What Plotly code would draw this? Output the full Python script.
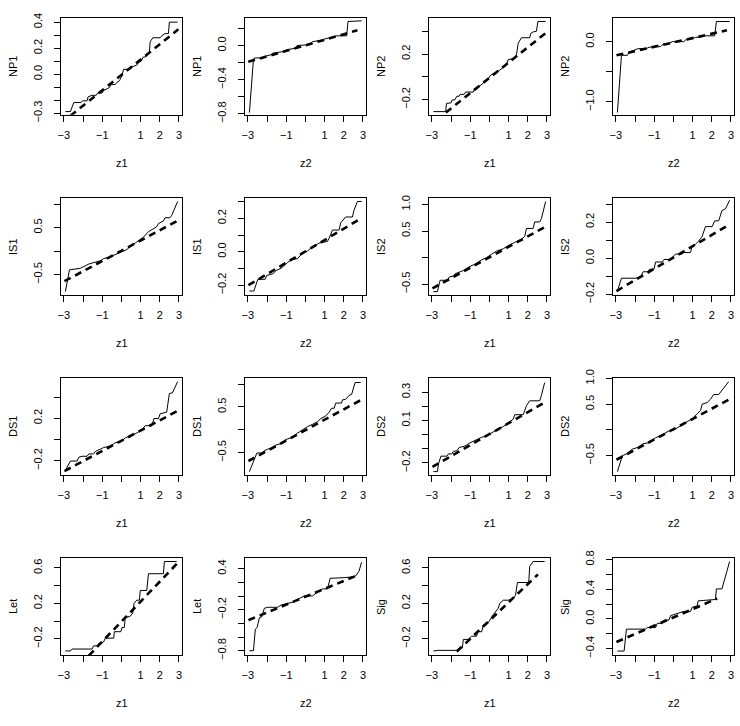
import plotly.graph_objects as go

# ---------------- data ----------------
x_tick_vals = [-3, -2, -1, 0, 1, 2, 3]
x_tick_text = ["\u22123", "", "\u22121", "", "1", "2", "3"]

row_vars = ["NP1", "NP1", "NP2", "NP2", "IS1", "IS1", "IS2", "IS2",
            "DS1", "DS1", "DS2", "DS2", "Let", "Let", "Sig", "Sig"]
col_vars = ["z1", "z2", "z1", "z2"] * 4

np1_z1_x = [-2.92,-2.66,-2.48,-2.10,-2.03,-1.79,-1.74,-1.53,-1.31,-1.24,-1.01,-0.93,-0.75,-0.61,-0.54,-0.32,-0.23,-0.10,0.03,0.11,0.46,0.54,0.80,0.89,1.06,1.12,1.29,1.36,1.46,1.50,1.64,2.02,2.10,2.28,2.45,2.50,2.93]
np1_z1_y = [-0.2875,-0.2875,-0.2175,-0.2175,-0.205,-0.205,-0.175,-0.1625,-0.1625,-0.145,-0.145,-0.125,-0.1125,-0.10,-0.08,-0.08,-0.0625,-0.05,-0.0125,0.0375,0.0375,0.055,0.07,0.0875,0.105,0.13,0.135,0.15,0.175,0.25,0.28,0.28,0.295,0.3125,0.3125,0.40,0.40]
np1_z2_x = [-2.92,-2.71,-2.66,-2.14,-2.10,-1.79,-1.70,-1.10,-1.01,-0.49,-0.44,0.03,0.29,0.37,0.89,0.98,1.50,1.58,2.15,2.22,2.93]
np1_z2_y = [-0.785,-0.164,-0.145,-0.145,-0.126,-0.107,-0.088,-0.069,-0.050,-0.030,0.0,0.008,0.027,0.046,0.065,0.076,0.103,0.114,0.114,0.282,0.29]
np2_z1_x = [-2.92,-2.28,-2.24,-2.00,-1.96,-1.79,-1.70,-1.58,-1.53,-1.31,-1.24,-0.84,-0.79,-0.58,-0.49,-0.32,-0.23,-0.06,0.03,0.20,0.37,0.54,0.72,0.89,0.98,1.24,1.32,1.41,1.50,1.67,2.10,2.15,2.28,2.45,2.53,2.93]
np2_z1_y = [-0.306,-0.306,-0.234,-0.229,-0.206,-0.20,-0.171,-0.171,-0.154,-0.154,-0.134,-0.134,-0.114,-0.091,-0.077,-0.057,-0.04,-0.02,0.009,0.029,0.037,0.057,0.08,0.103,0.151,0.16,0.171,0.194,0.294,0.343,0.343,0.38,0.394,0.40,0.486,0.486]
np2_z2_x = [-2.92,-2.71,-2.40,-2.31,-2.10,-1.88,-1.36,-1.27,-0.67,-0.54,-0.23,-0.06,0.54,0.63,0.98,1.15,1.50,1.67,2.15,2.24,2.93]
np2_z2_y = [-1.178,-0.227,-0.227,-0.173,-0.151,-0.119,-0.108,-0.092,-0.081,-0.043,-0.027,0.0,0.0,0.027,0.054,0.07,0.081,0.097,0.097,0.335,0.335]

is1_z1_x = [-2.92,-2.71,-2.14,-1.96,-1.70,-1.53,-1.27,-1.10,-0.93,-0.67,-0.49,-0.32,-0.06,0.11,0.29,0.46,0.72,0.89,1.15,1.41,1.58,1.84,1.93,2.19,2.28,2.53,2.62,2.93]
is1_z1_y = [-0.862,-0.40,-0.366,-0.324,-0.276,-0.255,-0.228,-0.207,-0.159,-0.138,-0.103,-0.069,-0.034,0.0,0.034,0.103,0.172,0.228,0.297,0.414,0.462,0.517,0.586,0.641,0.71,0.71,0.759,1.055]
is1_z2_x = [-2.92,-2.69,-2.48,-2.10,-2.02,-1.70,-1.53,-1.27,-0.93,-0.75,-0.40,-0.15,0.11,0.29,0.46,0.72,1.15,1.24,1.41,1.76,1.84,2.10,2.45,2.53,2.71,2.93]
is1_z2_y = [-0.235,-0.235,-0.165,-0.165,-0.142,-0.132,-0.113,-0.099,-0.064,-0.049,-0.041,-0.006,0.004,0.023,0.033,0.052,0.062,0.082,0.13,0.13,0.173,0.208,0.208,0.247,0.301,0.301]
is2_z1_x = [-2.92,-2.71,-2.57,-2.17,-2.10,-1.88,-1.79,-1.58,-1.36,-1.10,-0.75,-0.40,-0.15,0.11,0.37,0.72,0.98,1.32,1.67,1.84,1.93,2.28,2.36,2.62,2.71,2.93]
is2_z1_y = [-0.64,-0.64,-0.427,-0.427,-0.366,-0.348,-0.305,-0.274,-0.244,-0.183,-0.122,-0.043,0.0,0.061,0.122,0.165,0.226,0.287,0.348,0.396,0.549,0.549,0.671,0.671,0.732,1.055]
is2_z2_x = [-2.92,-2.71,-1.96,-1.70,-1.58,-1.36,-1.24,-1.01,-0.93,-0.58,-0.49,-0.15,-0.06,0.11,0.46,0.54,0.89,0.98,1.15,1.32,1.50,1.67,2.02,2.15,2.36,2.53,2.71,2.93]
is2_z2_y = [-0.182,-0.111,-0.111,-0.102,-0.075,-0.075,-0.061,-0.061,-0.021,-0.021,-0.007,-0.007,0.005,0.023,0.023,0.032,0.032,0.068,0.077,0.095,0.121,0.175,0.175,0.207,0.207,0.264,0.273,0.321]

ds1_z1_x = [-2.92,-2.83,-2.66,-2.31,-2.22,-2.05,-1.79,-1.70,-1.45,-1.36,-1.10,-0.93,-0.58,-0.32,0.03,0.20,0.54,0.80,1.06,1.24,1.58,1.70,1.93,2.02,2.36,2.50,2.66,2.93]
ds1_z1_y = [-0.303,-0.258,-0.203,-0.203,-0.167,-0.158,-0.158,-0.136,-0.136,-0.112,-0.091,-0.076,-0.061,-0.03,-0.015,0.015,0.039,0.061,0.091,0.13,0.13,0.197,0.197,0.242,0.258,0.433,0.439,0.545]
ds1_z2_x = [-2.92,-2.66,-2.53,-2.28,-2.14,-1.96,-1.70,-1.53,-1.27,-1.01,-0.75,-0.40,-0.15,0.11,0.37,0.63,0.80,1.06,1.24,1.36,1.50,1.58,1.88,1.93,2.10,2.28,2.41,2.59,2.88]
ds1_z2_y = [-0.915,-0.669,-0.507,-0.507,-0.458,-0.423,-0.387,-0.331,-0.303,-0.211,-0.176,-0.07,0.0,0.07,0.12,0.176,0.246,0.303,0.387,0.472,0.472,0.585,0.585,0.655,0.669,0.754,0.775,1.035,1.035]
ds2_z1_x = [-2.92,-2.71,-2.66,-2.53,-2.22,-2.14,-1.96,-1.88,-1.70,-1.58,-1.27,-1.01,-0.75,-0.40,-0.15,0.11,0.37,0.72,0.98,1.24,1.32,1.76,1.84,1.93,2.10,2.62,2.71,2.88]
ds2_z1_y = [-0.261,-0.261,-0.209,-0.152,-0.152,-0.136,-0.136,-0.118,-0.114,-0.091,-0.08,-0.057,-0.041,-0.018,-0.011,0.011,0.034,0.057,0.086,0.109,0.141,0.141,0.17,0.205,0.239,0.239,0.277,0.368]
ds2_z2_x = [-2.92,-2.74,-2.66,-2.45,-2.14,-1.88,-1.58,-1.27,-0.93,-0.58,-0.23,0.03,0.29,0.54,0.72,0.98,1.24,1.41,1.50,1.76,1.93,2.10,2.36,2.62,2.88]
ds2_z2_y = [-0.8125,-0.594,-0.50,-0.469,-0.375,-0.344,-0.269,-0.25,-0.156,-0.094,-0.019,0.0,0.0625,0.125,0.156,0.219,0.3125,0.375,0.5,0.531,0.594,0.6875,0.6875,0.8125,0.9375]

let_z1_x = [-2.92,-2.66,-2.57,-1.53,-1.45,-1.24,-1.19,-0.93,-0.84,-0.40,-0.37,-0.03,0.03,0.15,0.20,0.46,0.59,0.66,0.80,0.94,0.98,1.32,1.41,2.19,2.24,2.88]
let_z1_y = [-0.338,-0.338,-0.316,-0.316,-0.28,-0.28,-0.255,-0.236,-0.193,-0.193,-0.12,-0.12,-0.073,-0.073,0.036,0.055,0.091,0.2,0.236,0.236,0.345,0.345,0.535,0.535,0.673,0.673]
let_z2_x = [-2.92,-2.71,-2.61,-2.52,-2.40,-2.28,-2.14,-1.96,-1.45,-1.27,-0.93,-0.58,-0.32,-0.06,0.37,0.54,0.72,0.89,1.15,1.29,1.50,2.02,2.36,2.62,2.79,2.93]
let_z2_y = [-0.80,-0.80,-0.485,-0.461,-0.32,-0.306,-0.179,-0.165,-0.165,-0.132,-0.108,-0.085,-0.038,0.0,0.0,0.042,0.08,0.104,0.104,0.259,0.259,0.268,0.278,0.292,0.362,0.494]
sig_z1_x = [-2.92,-2.66,-1.70,-1.58,-1.41,-1.36,-1.10,-0.93,-0.67,-0.61,-0.40,-0.32,-0.06,0.08,0.20,0.46,0.54,0.72,0.98,1.24,1.36,1.46,2.05,2.10,2.28,2.88]
sig_z1_y = [-0.338,-0.331,-0.331,-0.302,-0.302,-0.207,-0.207,-0.171,-0.171,-0.12,-0.12,-0.047,-0.018,0.036,0.073,0.145,0.2,0.236,0.236,0.255,0.291,0.436,0.436,0.618,0.673,0.673]
sig_z2_x = [-2.92,-2.57,-2.45,-1.45,-1.36,-0.93,-0.84,-0.58,-0.49,-0.23,-0.15,0.29,0.54,0.89,0.98,1.24,1.29,2.19,2.24,2.53,2.93]
sig_z2_y = [-0.435,-0.435,-0.139,-0.139,-0.117,-0.117,-0.061,-0.061,-0.017,-0.017,0.043,0.078,0.10,0.10,0.157,0.174,0.243,0.261,0.404,0.404,0.774]

# dashed reference lines: start / end points
ref_x = [[-2.66, 2.97], [-2.98, 2.71], [-2.27, 2.97], [-2.97, 2.79],
         [-2.97, 2.97], [-2.97, 2.88], [-2.97, 2.97], [-2.97, 2.88],
         [-2.97, 2.97], [-2.97, 2.97], [-2.97, 2.88], [-2.97, 2.97],
         [-1.70, 2.97], [-2.97, 2.62], [-1.70, 2.53], [-2.97, 2.28]]
ref_y = [[-0.32, 0.345], [-0.19, 0.179], [-0.314, 0.389], [-0.227, 0.189],
         [-0.641, 0.655], [-0.2, 0.198], [-0.579, 0.591], [-0.182, 0.184],
         [-0.297, 0.273], [-0.683, 0.669], [-0.227, 0.227], [-0.581, 0.606],
         [-0.39, 0.665], [-0.353, 0.292], [-0.345, 0.527], [-0.313, 0.274]]

# y tick values and visible labels per panel
y_tick_vals = [
    [-0.3, -0.2, -0.1, 0.0, 0.1, 0.2, 0.3, 0.4],
    [-0.8, -0.6, -0.4, -0.2, 0.0, 0.2],
    [-0.2, 0.0, 0.2, 0.4],
    [-1.0, -0.5, 0.0],
    [-0.5, 0.0, 0.5, 1.0],
    [-0.2, -0.1, 0.0, 0.1, 0.2, 0.3],
    [-0.5, 0.0, 0.5, 1.0],
    [-0.2, -0.1, 0.0, 0.1, 0.2, 0.3],
    [-0.2, 0.0, 0.2, 0.4],
    [-0.5, 0.0, 0.5, 1.0],
    [-0.2, -0.1, 0.0, 0.1, 0.2, 0.3],
    [-0.5, 0.0, 0.5, 1.0],
    [-0.2, 0.0, 0.2, 0.4, 0.6],
    [-0.8, -0.6, -0.4, -0.2, 0.0, 0.2, 0.4],
    [-0.2, 0.0, 0.2, 0.4, 0.6],
    [-0.4, -0.2, 0.0, 0.2, 0.4, 0.6, 0.8],
]
M = "\u2212"
y_tick_text = [
    [M + "0.3", "", "", "0.0", "", "0.2", "", "0.4"],
    [M + "0.8", "", M + "0.4", "", "0.0", ""],
    [M + "0.2", "", "0.2", ""],
    [M + "1.0", "", "0.0"],
    [M + "0.5", "", "0.5", ""],
    [M + "0.2", "", "0.0", "", "0.2", ""],
    [M + "0.5", "", "0.5", "1.0"],
    [M + "0.2", "", "0.0", "", "0.2", ""],
    [M + "0.2", "", "0.2", ""],
    [M + "0.5", "", "0.5", ""],
    [M + "0.2", "", "", "0.1", "", "0.3"],
    [M + "0.5", "", "0.5", "1.0"],
    [M + "0.2", "", "0.2", "", "0.6"],
    [M + "0.8", "", "", M + "0.2", "", "", "0.4"],
    [M + "0.2", "", "0.2", "", "0.6"],
    [M + "0.4", "", "0.0", "", "0.4", "", "0.8"],
]

series_x = [np1_z1_x, np1_z2_x, np2_z1_x, np2_z2_x, is1_z1_x, is1_z2_x, is2_z1_x, is2_z2_x,
            ds1_z1_x, ds1_z2_x, ds2_z1_x, ds2_z2_x, let_z1_x, let_z2_x, sig_z1_x, sig_z2_x]
series_y = [np1_z1_y, np1_z2_y, np2_z1_y, np2_z2_y, is1_z1_y, is1_z2_y, is2_z1_y, is2_z2_y,
            ds1_z1_y, ds1_z2_y, ds2_z1_y, ds2_z2_y, let_z1_y, let_z2_y, sig_z1_y, sig_z2_y]

# ---------------- layout ----------------
W, H = 740, 726
y_ranges = [[-0.3125, 0.43], [-0.811, 0.32], [-0.334, 0.514], [-1.216, 0.389],
            [-0.931, 1.124], [-0.258, 0.32], [-0.701, 1.116], [-0.203, 0.332],
            [-0.333, 0.576], [-0.986, 1.127], [-0.284, 0.398], [-0.875, 1.003],
            [-0.382, 0.709], [-0.861, 0.551], [-0.382, 0.709], [-0.487, 0.817]]
x_range = [-3.14, 3.16]

col_left = [57.5 + 185 * c for c in range(4)]
box_w = 121.5
row_top = [9.5 + 184.6 * r for r in range(4)]
box_h = 99.0

FONT = "Liberation Sans, Arial, Helvetica, sans-serif"
fig = go.Figure()
layout = dict(width=W, height=H, margin=dict(l=0, r=0, t=0, b=0),
              paper_bgcolor="white", plot_bgcolor="white", showlegend=False,
              font=dict(family=FONT, size=11, color="black"))
annotations = []

for i in range(16):
    r, c = divmod(i, 4)
    L = col_left[c]
    T = row_top[r]
    xd = [L / W, (L + box_w) / W]
    yd = [1 - (T + box_h) / H, 1 - T / H]
    sfx = "" if i == 0 else str(i + 1)
    xa, ya = "x" + sfx, "y" + sfx
    fig.add_trace(go.Scatter(x=series_x[i], y=series_y[i], mode="lines",
                             line=dict(color="black", width=1),
                             xaxis=xa, yaxis=ya, hoverinfo="skip"))
    fig.add_trace(go.Scatter(x=ref_x[i], y=ref_y[i], mode="lines",
                             line=dict(color="black", width=2.6, dash="7px,5px"),
                             xaxis=xa, yaxis=ya, hoverinfo="skip"))
    common = dict(showline=True, mirror=True, linecolor="black", linewidth=1,
                  ticks="outside", ticklen=6, tickwidth=1, tickcolor="black",
                  showgrid=False, zeroline=False,
                  tickfont=dict(family=FONT, size=11, color="black"))
    layout["xaxis" + sfx] = dict(domain=xd, range=x_range, anchor=ya,
                                 tickmode="array", tickvals=x_tick_vals,
                                 ticktext=x_tick_text, ticklabelstandoff=4, **common)
    layout["yaxis" + sfx] = dict(domain=yd, range=y_ranges[i], anchor=xa,
                                 tickmode="array", tickvals=y_tick_vals[i],
                                 ticktext=y_tick_text[i], tickangle=-90,
                                 ticklabelstandoff=8, **common)
    annotations.append(dict(text=col_vars[i], xref="paper", yref="paper",
                            x=(L + box_w / 2) / W, y=1 - (T + box_h + 49) / H,
                            xanchor="center", yanchor="middle", showarrow=False,
                            font=dict(family=FONT, size=11, color="black")))
    annotations.append(dict(text=row_vars[i], xref="paper", yref="paper",
                            x=(L - 49) / W, y=1 - (T + box_h / 2) / H,
                            xanchor="center", yanchor="middle", showarrow=False,
                            textangle=-90,
                            font=dict(family=FONT, size=11, color="black")))

layout["annotations"] = annotations
fig.update_layout(**layout)
fig.write_html("out.html")
